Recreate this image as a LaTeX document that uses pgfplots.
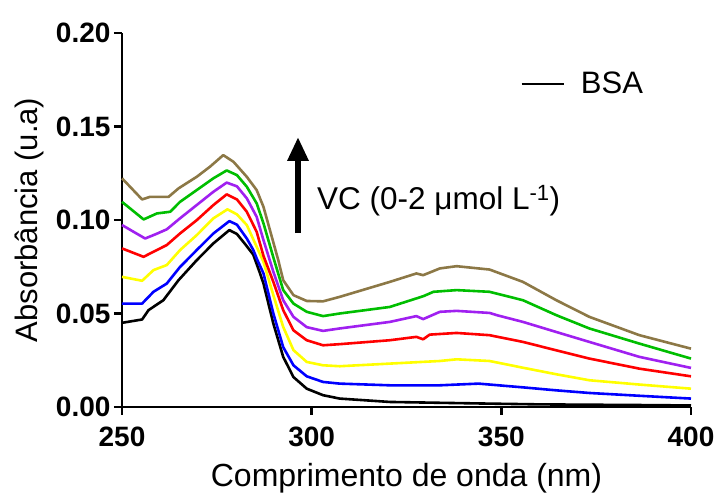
\documentclass[border=0pt]{standalone}
\usepackage{fontspec}
\setmainfont{Liberation Sans}
\usepackage{pgfplots}
\pgfplotsset{compat=1.18}
\usetikzlibrary{arrows.meta}
\definecolor{cOlive}{RGB}{140,120,70}
\definecolor{cGreen}{RGB}{0,190,0}
\definecolor{cPurple}{RGB}{160,32,240}
\definecolor{cRed}{RGB}{255,0,0}
\definecolor{cYellow}{RGB}{255,255,0}
\definecolor{cBlue}{RGB}{0,0,255}
\begin{document}
\begin{tikzpicture}
\begin{axis}[
  scale only axis, width=569pt, height=374pt,
  xmin=250, xmax=400, ymin=0, ymax=0.2,
  axis x line*=bottom, axis y line*=left,
  axis line style={line width=2.5pt, -},
  xtick={250,300,350,400}, ytick={0,0.05,0.1,0.15,0.2},
  tick align=outside, major tick length=8pt,
  tick style={line width=2.5pt, black},
  minor tick num=0,
  /pgf/number format/assume math mode=true,
  ticklabel style={font=\fontsize{28}{30}\selectfont\bfseries},
  yticklabel style={/pgf/number format/.cd, fixed, fixed zerofill, precision=2},
  xticklabel style={yshift=-8pt, /pgf/number format/.cd, set thousands separator={}},
  xlabel={Comprimento de onda (nm)},
  ylabel={Absorbância (u.a)},
  xlabel style={font=\fontsize{32}{34}\selectfont, at={(axis description cs:0.5,-0.19)}, anchor=center},
  ylabel style={font=\fontsize{31}{34}\selectfont, at={(axis description cs:-0.163,0.5)}, anchor=center, rotate=0},
  clip=false,
  legend style={at={(rel axis cs:0.70,0.864)}, anchor=west, draw=none, fill=none, inner sep=0pt,
    font=\fontsize{31}{33}\selectfont},
  legend image code/.code={\draw[#1, line width=2.5pt] (0pt,0pt) -- (42pt,0pt);},
  every axis plot/.append style={line width=2.6pt, line join=round},
]
\addplot[black] coordinates {(250,0.045)(255.3,0.0468)(257,0.0518)(260.9,0.0571)(264.9,0.0678)(269.7,0.0785)(274.1,0.0875)(278.3,0.0946)(280.3,0.0925)(282.5,0.087)(284.6,0.0815)(286.4,0.0714)(287.3,0.066)(289.9,0.0446)(292.5,0.0268)(295.2,0.016)(298.7,0.0098)(303,0.0063)(307.4,0.0045)(320.6,0.0027)(335,0.0022)(347,0.0018)(360,0.0014)(375,0.0012)(390,0.001)(400,0.0008)};
\addlegendentry{\hspace{14pt}BSA}
\addplot[cBlue, forget plot] coordinates {(250,0.0553)(255.3,0.0553)(258.3,0.0616)(261.8,0.066)(265.3,0.0749)(269.7,0.0839)(274.1,0.0928)(278.3,0.0994)(280.3,0.0975)(282.9,0.0901)(284.6,0.084)(285.6,0.079)(287.3,0.0714)(289.9,0.05)(292.5,0.032)(295.2,0.0223)(298.7,0.0164)(303,0.0134)(307.4,0.0125)(320.6,0.0116)(333.8,0.0116)(344,0.0125)(355.7,0.0105)(364.5,0.0089)(373.2,0.0075)(386.4,0.006)(400,0.0045)};
\addplot[cYellow, forget plot] coordinates {(250,0.0696)(255.3,0.0675)(258.3,0.0732)(261.8,0.0759)(265.3,0.0839)(269.7,0.0919)(274.1,0.1009)(277.8,0.1057)(280.3,0.103)(282.9,0.0973)(285.5,0.0857)(287.3,0.0776)(289.9,0.0598)(292.5,0.0428)(295.2,0.0304)(298.7,0.0241)(303,0.0223)(307.4,0.0218)(320.6,0.0232)(333.8,0.0246)(338.2,0.0255)(346.9,0.0246)(355.7,0.021)(364.5,0.0175)(373.2,0.0143)(386.4,0.012)(400,0.0098)};
\addplot[cRed, forget plot] coordinates {(250,0.0848)(255.7,0.0803)(257.4,0.0821)(261.8,0.0866)(265.3,0.0928)(269.7,0.0999)(274.1,0.108)(277.6,0.1137)(280.3,0.111)(282.9,0.1044)(285.5,0.0937)(287.3,0.0808)(289.9,0.0669)(292.5,0.0518)(295.2,0.041)(298.7,0.0357)(303,0.033)(307.4,0.0336)(320.6,0.0357)(327.6,0.0375)(329.4,0.0362)(331.1,0.0387)(338.2,0.0396)(346.9,0.0384)(355.7,0.0348)(364.5,0.0303)(373.2,0.0259)(386.4,0.0205)(400,0.0164)};
\addplot[cPurple, forget plot] coordinates {(250,0.0973)(256.1,0.0901)(259,0.0925)(261.8,0.095)(265.3,0.1009)(269.7,0.108)(274.1,0.1151)(277.6,0.12)(280.3,0.118)(282.9,0.1116)(285.5,0.1017)(287.3,0.0892)(289.9,0.0723)(292.5,0.0571)(295.2,0.0482)(298.7,0.0427)(303,0.0407)(307.4,0.042)(320.6,0.0455)(327.6,0.0486)(329.4,0.047)(333.8,0.0509)(338.2,0.0514)(346.9,0.0503)(349,0.049)(355.7,0.0455)(364.5,0.0401)(373.2,0.0348)(386.4,0.0268)(400,0.0209)};
\addplot[cGreen, forget plot] coordinates {(250,0.1097)(255.7,0.1003)(259.2,0.1035)(262.7,0.1044)(265.3,0.1097)(269.7,0.116)(274.1,0.1223)(277.6,0.1265)(280.3,0.124)(282.9,0.1178)(285.5,0.1089)(287.3,0.0982)(289.9,0.08)(292.5,0.0625)(295.2,0.0553)(298.7,0.0509)(303,0.0486)(307.4,0.05)(320.6,0.0535)(329.5,0.0593)(332.1,0.0616)(338.2,0.0625)(346.9,0.0616)(355.7,0.0571)(364.5,0.0491)(373.2,0.042)(386.4,0.0339)(400,0.0259)};
\addplot[cOlive, forget plot] coordinates {(250,0.1223)(255.3,0.111)(257.4,0.1124)(262.3,0.1124)(264.9,0.1169)(269.7,0.1231)(273.2,0.1285)(276.7,0.1347)(279.4,0.1311)(282.9,0.1231)(285.5,0.116)(287.3,0.107)(289,0.0946)(291.2,0.0785)(292.5,0.0678)(295.2,0.0598)(298.7,0.0567)(303,0.0565)(307.4,0.0589)(320.6,0.0669)(327.6,0.0714)(329.4,0.0705)(333.8,0.0741)(338.2,0.0753)(346.9,0.0735)(355.7,0.0669)(364.5,0.0571)(373.2,0.0482)(386.4,0.0384)(400,0.0312)};
\draw[line width=6pt, -{Triangle[width=20pt,length=24pt]}] (axis cs:296.4,0.093) -- (axis cs:296.4,0.1444);
\node[anchor=west, font=\fontsize{31.5}{33}\selectfont, inner sep=0pt] at (axis cs:301.4,0.1105) {VC (0-2 μmol L\textsuperscript{-1})};
\end{axis}
\pgfresetboundingbox
\useasboundingbox (-122pt,-90pt) rectangle (596pt,407pt);
\end{tikzpicture}
\end{document}
